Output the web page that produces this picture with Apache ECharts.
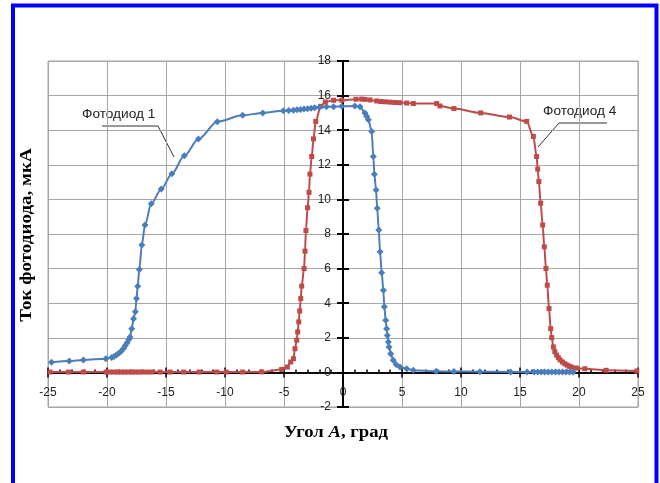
<!DOCTYPE html>
<html><head><meta charset="utf-8">
<script src="https://cdn.jsdelivr.net/npm/echarts@6/dist/echarts.min.js"></script>
<style>html,body{margin:0;padding:0;background:#fff}#c{width:660px;height:483px}</style>
</head><body><div id="c"></div>
<script>
const seriesNames = ['Фотодиод 1', 'Фотодиод 4'];
const xTitle = ['Угол ', 'A', ', град'];
const yTitle = 'Ток фотодиода, мкА';
const xRange = [-25, 25, 5];
const yRange = [-2, 18, 2];

const diode1 = [
  [-24.7,0.58],[-23.2,0.66],[-22.0,0.72],[-20.1,0.79],[-19.6,0.86],[-19.4,0.92],[-19.2,1.0],
  [-19.0,1.1],[-18.8,1.22],[-18.6,1.38],[-18.45,1.55],[-18.3,1.72],[-18.15,1.9],[-18.05,2.05],
  [-17.9,2.53],[-17.75,3.1],[-17.6,3.5],[-17.5,4.27],[-17.4,4.98],[-17.26,5.95],[-17.05,7.36],
  [-16.78,8.52],[-16.25,9.75],[-15.4,10.6],[-14.5,11.48],[-13.45,12.52],[-12.25,13.49],
  [-10.65,14.49],[-8.5,14.86],[-6.8,15.0],[-5.05,15.12],[-4.6,15.14],[-4.2,15.16],[-3.9,15.18],
  [-3.6,15.2],[-3.3,15.22],[-3.0,15.24],[-2.7,15.27],[-2.4,15.3],[-2.0,15.33],[-1.4,15.35],
  [-0.8,15.36],[-0.1,15.38],[1.0,15.4],[1.44,15.36],[1.86,15.0],[2.0,14.8],[2.15,14.6],
  [2.43,13.93],[2.57,12.48],[2.66,11.46],[2.8,10.55],[2.9,9.49],[3.03,8.23],[3.14,6.97],
  [3.28,5.76],[3.42,4.75],[3.5,3.79],[3.62,3.01],[3.7,2.53],[3.76,2.14],[3.84,1.76],[3.9,1.47],
  [4.04,1.08],[4.26,0.7],[4.5,0.46],[4.83,0.31],[5.4,0.21],[5.96,0.12],[7.9,0.06],[9.4,0.05],
  [11.6,0.04],[14.2,0.03],[15.6,0.03],[16.2,0.03],[16.5,0.03],[16.8,0.03],[17.1,0.03],
  [17.4,0.03],[17.7,0.03],[18.0,0.03],[18.3,0.03],[18.6,0.03],[18.9,0.03],[19.2,0.03],[19.5,0.03]
];

const diode4 = [
  [-24.83,0.02],[-23.28,0.02],[-22.0,0.02],[-20.08,0.02],[-19.75,0.02],[-19.4,0.02],[-19.1,0.02],
  [-18.8,0.02],[-18.5,0.02],[-18.2,0.02],[-17.9,0.02],[-17.6,0.02],[-17.3,0.02],[-17.0,0.02],
  [-16.6,0.02],[-16.2,0.02],[-15.5,0.02],[-14.66,0.02],[-13.5,0.02],[-12.2,0.02],[-10.7,0.02],
  [-9.9,0.02],[-8.5,0.02],[-6.9,0.03],[-5.2,0.17],[-4.72,0.31],[-4.43,0.6],[-4.2,0.79],
  [-4.07,1.37],[-3.92,1.86],[-3.84,2.34],[-3.75,2.92],[-3.67,3.55],[-3.58,4.27],[-3.5,4.99],
  [-3.3,6.0],[-3.22,7.01],[-3.14,8.2],[-3.0,9.52],[-2.88,10.41],[-2.8,11.46],[-2.65,12.48],
  [-2.5,13.5],[-2.31,14.51],[-1.89,15.38],[-1.5,15.63],[-0.8,15.73],[-0.1,15.73],[1.1,15.79],
  [1.58,15.8],[1.86,15.78],[2.29,15.75],[2.85,15.69],[3.2,15.66],[3.6,15.64],[4.0,15.62],
  [4.4,15.6],[4.8,15.59],[5.4,15.57],[5.96,15.54],[7.94,15.54],[8.22,15.4],[9.4,15.25],
  [11.67,15.0],[14.1,14.76],[15.57,14.51],[16.13,13.64],[16.41,12.48],[16.5,11.75],[16.6,11.03],
  [16.75,9.78],[16.92,8.52],[17.06,7.26],[17.2,6.01],[17.31,5.04],[17.46,3.69],[17.6,2.53],
  [17.69,2.01],[17.83,1.47],[17.95,1.2],[18.1,1.0],[18.25,0.85],[18.4,0.72],[18.6,0.6],
  [18.8,0.5],[19.0,0.42],[19.2,0.35],[19.4,0.3],[19.8,0.25],[20.5,0.21],[22.3,0.12],[24.9,0.08]
];

const W = 660, H = 483;
const G = {left: 48, right: 22, top: 61, bottom: 76};
const gW = W - G.left - G.right, gH = H - G.top - G.bottom;
// where the value 0 falls inside the grid (so axes cross at 0, Excel style)
const zeroFromLeft = gW * (0 - xRange[0]) / (xRange[1] - xRange[0]);
const zeroFromTop = gH * (yRange[1] - 0) / (yRange[1] - yRange[0]);

const chart = echarts.init(document.getElementById('c'), null, {renderer: 'canvas'});
const labelFont = {fontFamily: 'Liberation Sans, Arial, sans-serif', fontSize: 12, color: '#222'};
const blk = '#000';
const gridLineColor = '#a6a6a6';

function xAxisBase() {
  return {type: 'value', min: xRange[0], max: xRange[1], interval: xRange[2]};
}
function yAxisBase() {
  return {type: 'value', min: yRange[0], max: yRange[1], interval: yRange[2]};
}

const option = {
  animation: false,
  backgroundColor: '#fff',
  grid: {left: G.left, right: G.right, top: G.top, bottom: G.bottom, show: true, borderColor: gridLineColor, borderWidth: 1},
  xAxis: [
    Object.assign(xAxisBase(), {
      position: 'bottom', offset: -(gH - zeroFromTop),
      axisLine: {onZero: false, lineStyle: {color: blk, width: 1.5}},
      axisTick: {show: true, length: 5, lineStyle: {color: blk, width: 1.5}},
      minorTick: {show: false},
      axisLabel: Object.assign({margin: 14}, labelFont),
      splitLine: {show: true, lineStyle: {color: gridLineColor, width: 1}},
      z: 1
    }),
    Object.assign(xAxisBase(), {
      position: 'top', offset: -zeroFromTop,
      axisLine: {onZero: false, lineStyle: {color: blk, width: 1.5}},
      axisTick: {show: true, length: 5, lineStyle: {color: blk, width: 1.5}},
      minorTick: {show: true, splitNumber: 5, length: 3, lineStyle: {color: blk, width: 1.5}},
      axisLabel: {show: false},
      splitLine: {show: false},
      z: 1
    })
  ],
  yAxis: [
    Object.assign(yAxisBase(), {
      position: 'left', offset: -zeroFromLeft,
      axisLine: {onZero: false, lineStyle: {color: blk, width: 2}},
      axisTick: {show: true, length: 6, lineStyle: {color: blk, width: 2}},
      axisLabel: Object.assign({margin: 12}, labelFont),
      splitLine: {show: true, lineStyle: {color: gridLineColor, width: 1}},
      z: 1
    }),
    Object.assign(yAxisBase(), {
      position: 'right', offset: -(gW - zeroFromLeft),
      axisLine: {onZero: false, lineStyle: {color: blk, width: 2}},
      axisTick: {show: true, length: 6, lineStyle: {color: blk, width: 2}},
      axisLabel: {show: false},
      splitLine: {show: false},
      z: 1
    })
  ],
  series: [
    {
      name: seriesNames[1], type: 'line', data: diode4, xAxisIndex: 0, yAxisIndex: 0,
      smooth: 0.3, smoothMonotone: 'x',
      symbol: 'rect', symbolSize: 5, showAllSymbol: true,
      lineStyle: {color: '#be4b48', width: 2}, itemStyle: {color: '#be4b48'}, z: 3
    },
    {
      name: seriesNames[0], type: 'line', data: diode1, xAxisIndex: 0, yAxisIndex: 0,
      smooth: 0.3, smoothMonotone: 'x',
      symbol: 'diamond', symbolSize: 7, showAllSymbol: true,
      lineStyle: {color: '#4a7ebb', width: 2}, itemStyle: {color: '#4a7ebb'}, z: 4
    }
  ],
  graphic: [
    {type: 'rect', shape: {x: 13, y: 5.5, width: 643.5, height: 520}, style: {fill: 'none', stroke: '#0000ff', lineWidth: 4}, z: 100},
    {type: 'text', x: 27, y: 235, rotation: Math.PI / 2, scaleX: 1.12,
      style: {text: yTitle, font: 'bold 17px "Liberation Serif", "Times New Roman", serif', fill: '#000', textAlign: 'center', textVerticalAlign: 'middle'}},
    {type: 'text', x: 336, y: 433, scaleX: 1.1,
      style: {text: '{b|' + xTitle[0] + '}{i|' + xTitle[1] + '}{b|' + xTitle[2] + '}', textAlign: 'center', textVerticalAlign: 'middle',
        rich: {
          b: {fontFamily: 'Liberation Serif', fontWeight: 'bold', fontSize: 17, fill: '#000', color: '#000'},
          i: {fontFamily: 'Liberation Serif', fontWeight: 'bold', fontStyle: 'italic', fontSize: 17, fill: '#000', color: '#000'}
        }}},
    {type: 'text', x: 82, y: 108, scaleX: 1.05, style: {text: seriesNames[0], font: '13px "Liberation Sans", Arial, sans-serif', fill: '#222'}},
    {type: 'polyline', shape: {points: [[102, 126], [158, 126], [174, 157]]}, style: {stroke: '#333', lineWidth: 1, fill: 'none'}},
    {type: 'text', x: 543, y: 105, scaleX: 1.05, style: {text: seriesNames[1], font: '13px "Liberation Sans", Arial, sans-serif', fill: '#222'}},
    {type: 'polyline', shape: {points: [[607, 123], [559, 123], [538, 147]]}, style: {stroke: '#333', lineWidth: 1, fill: 'none'}}
  ]
};
chart.setOption(option);
</script>
</body></html>
